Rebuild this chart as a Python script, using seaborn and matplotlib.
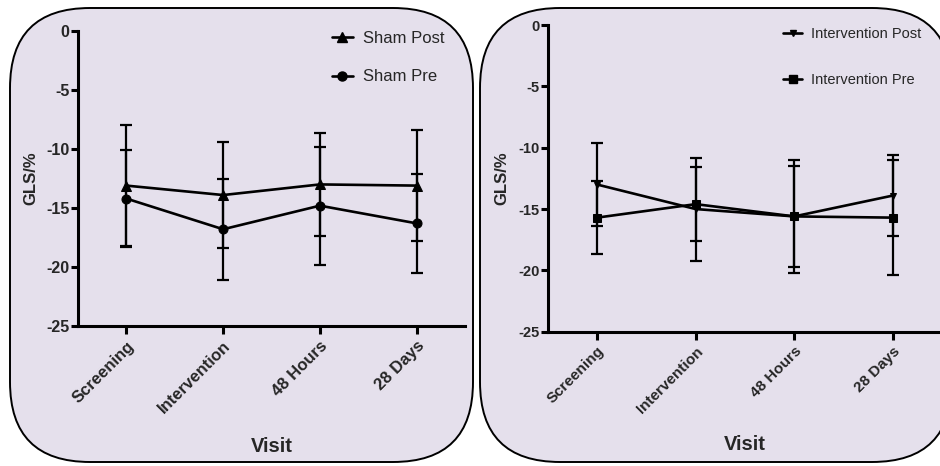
import matplotlib
matplotlib.use("Agg")
import matplotlib.pyplot as plt
from matplotlib.patches import FancyBboxPatch
from matplotlib.lines import Line2D
import seaborn as sns
import pandas as pd

# GLS (%) by visit, mean and SD per group
visits = ["Screening", "Intervention", "48 Hours", "28 Days"]

sham_post_mean = [-13.1, -13.9, -13.0, -13.1]
sham_post_sd = [5.1, 4.5, 4.35, 4.7]
sham_pre_mean = [-14.2, -16.8, -14.8, -16.3]
sham_pre_sd = [4.1, 4.3, 5.0, 4.2]

int_post_mean = [-13.0, -15.0, -15.6, -13.9]
int_post_sd = [3.4, 4.2, 4.6, 3.3]
int_pre_mean = [-15.7, -14.6, -15.6, -15.7]
int_pre_sd = [3.0, 3.0, 4.1, 4.7]

y_ticks = [0, -5, -10, -15, -20, -25]
y_tick_labels = ["0", "-5", "-10", "-15", "-20", "-25"]

sns.set_theme(style="white")
plt.rcParams["font.family"] = ["Liberation Sans", "DejaVu Sans"]
plt.rcParams["axes.unicode_minus"] = False

PANEL_BG = "#E5E0EC"

fig = plt.figure(figsize=(9.4, 4.66), dpi=100)

# rounded panel backgrounds (inch coordinates so corners stay circular)
for x0, w in [(0.10, 4.63), (4.80, 4.72)]:
    box = FancyBboxPatch((x0, 0.04), w, 4.54,
                         boxstyle="round,pad=0,rounding_size=0.8",
                         transform=fig.dpi_scale_trans,
                         facecolor=PANEL_BG, edgecolor="black", lw=1.4,
                         zorder=-5)
    fig.patches.append(box)


def panel(ax, series, fs_tick, fs_cat, fs_label, fs_leg, leg_anchor,
          leg_spacing, xlabelpad):
    ax.set_facecolor("none")
    handles = []
    for name, mean, sd, marker, ms in series:
        df = pd.DataFrame({"Visit": visits, "GLS": mean})
        ax.errorbar(visits, mean, yerr=sd, fmt="none", ecolor="black",
                    elinewidth=1.6, capsize=4, capthick=1.6, zorder=2)
        sns.lineplot(data=df, x="Visit", y="GLS", ax=ax, color="black",
                     marker=marker, markersize=ms, markeredgecolor="black",
                     linewidth=1.9, sort=False, zorder=3)
        handles.append(Line2D([], [], color="black", lw=1.9, marker=marker,
                              markersize=ms, label=name))
    ax.set_xlim(-0.5, 3.5)
    ax.set_ylim(-25, 0)
    ax.set_yticks(y_ticks)
    ax.set_yticklabels(y_tick_labels, fontsize=fs_tick, fontweight="bold")
    ax.set_xticks(range(len(visits)))
    ax.set_xticklabels(visits, rotation=45, ha="right", rotation_mode="anchor",
                       fontsize=fs_cat, fontweight="bold")
    ax.set_xlabel("Visit", fontsize=fs_label, fontweight="bold",
                  labelpad=xlabelpad)
    ax.set_ylabel("GLS/%", fontsize=12, fontweight="bold", labelpad=6)
    for side in ["top", "right"]:
        ax.spines[side].set_visible(False)
    for side in ["left", "bottom"]:
        ax.spines[side].set_linewidth(2.2)
        ax.spines[side].set_color("black")
    ax.tick_params(axis="both", which="major", direction="out", length=5,
                   width=2.2, color="black", pad=1, left=True, bottom=True)
    ax.tick_params(axis="x", length=6, pad=3)
    ax.grid(False)
    ax.legend(handles=handles, loc="upper left", bbox_to_anchor=leg_anchor,
              frameon=False, fontsize=fs_leg, handlelength=1.3,
              handletextpad=0.6, labelspacing=leg_spacing, borderpad=0,
              borderaxespad=0)


ax1 = fig.add_axes([0.083, 0.3004, 0.4117, 0.633])
panel(ax1,
      [("Sham Post", sham_post_mean, sham_post_sd, "^", 6.5),
       ("Sham Pre", sham_pre_mean, sham_pre_sd, "o", 6.5)],
      fs_tick=11.5, fs_cat=12, fs_label=14.5, fs_leg=12,
      leg_anchor=(0.655, 1.0), leg_spacing=1.4, xlabelpad=15)

ax2 = fig.add_axes([0.5827, 0.2882, 0.4196, 0.658])
panel(ax2,
      [("Intervention Post", int_post_mean, int_post_sd, "v", 5),
       ("Intervention Pre", int_pre_mean, int_pre_sd, "s", 5.5)],
      fs_tick=10.5, fs_cat=11, fs_label=14.5, fs_leg=10.5,
      leg_anchor=(0.597, 0.994), leg_spacing=2.2, xlabelpad=14)

fig.savefig("out.png", dpi=100)
